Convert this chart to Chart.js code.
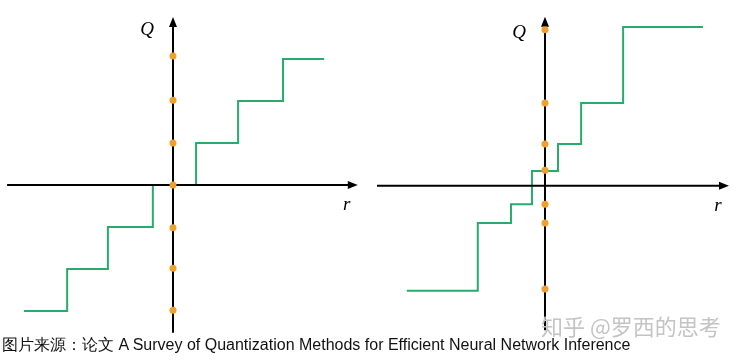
<!DOCTYPE html>
<html>
<head>
<meta charset="utf-8">
<script src="https://cdn.jsdelivr.net/npm/chart.js@4.4.1/dist/chart.umd.min.js"></script>
<style>
  body { margin: 0; background: #fff; }
  #wrap { position: relative; width: 738px; height: 361px; background: #fff; overflow: hidden; }
  .panel { position: absolute; top: 0; width: 369px; height: 340px; }
  #caption { position: absolute; left: 2px; top: 335px; font-family: "Liberation Sans", Arial, sans-serif; font-size: 16px; color: #111; white-space: nowrap; }
  #mark { position: absolute; left: 541px; top: 309px; font-family: "Noto Sans CJK SC", sans-serif; font-size: 22px; color: #c4c4c4; white-space: nowrap; }
</style>
</head>
<body>
<div id="wrap">
  <div class="panel" style="left:0"><canvas id="uniform" width="369" height="340"></canvas></div>
  <div class="panel" style="left:369px"><canvas id="nonuniform" width="369" height="340"></canvas></div>
  <div id="caption">图片来源：论文 A Survey of Quantization Methods for Efficient Neural Network Inference</div>
  <div id="mark">知乎 @罗西的思考</div>
</div>
<script>
// uniform quantization (left)
const uniStepR = [-3.55, -2.52, -1.55, -0.48, 0.55, 1.55, 2.62, 3.6];
const uniStepQ = [-3, -2, -1, 0, 1, 2, 3, 3];
const uniLevels = [3.07, 2.02, 1, 0, -1.02, -1.98, -2.98];

// non-uniform quantization (right)
const nonStepR = [-3.29, -1.6, -0.81, -0.31, 0.31, 0.86, 1.86, 3.76];
const nonStepQ = [-2.5, -0.89, -0.44, 0.35, 0.99, 1.97, 3.78, 3.78];
const nonLevels = [3.71, 1.97, 0.99, 0.37, -0.44, -0.89, -2.46];

const green = '#2aab6c';
const orange = '#f0a02c';

// axis arrows, drawn after the step line and before the dots
const axesPlugin = {
  id: 'arrowAxes',
  afterDatasetDraw(chart, args, opts) {
    if (args.index !== 1) return;
    const { ctx } = chart;
    const xs = chart.scales.x, ys = chart.scales.y;
    const x0 = xs.getPixelForValue(0), y0 = ys.getPixelForValue(0);
    const xl = xs.getPixelForValue(opts.rRange[0]), xr = xs.getPixelForValue(opts.rRange[1]);
    const yb = ys.getPixelForValue(opts.qRange[0]), yt = ys.getPixelForValue(opts.qRange[1]);
    ctx.save();
    ctx.strokeStyle = '#000';
    ctx.fillStyle = '#000';
    ctx.lineWidth = 2;
    ctx.beginPath();
    ctx.moveTo(xl, y0); ctx.lineTo(xr - 6, y0);
    ctx.moveTo(x0, yb); ctx.lineTo(x0, yt + 6);
    ctx.stroke();
    ctx.beginPath();
    ctx.moveTo(xr, y0); ctx.lineTo(xr - 10, y0 - 4); ctx.lineTo(xr - 10, y0 + 4); ctx.closePath();
    ctx.moveTo(x0, yt); ctx.lineTo(x0 - 4, yt + 10); ctx.lineTo(x0 + 4, yt + 10); ctx.closePath();
    ctx.fill();
    ctx.font = 'italic 19px "Liberation Serif", "DejaVu Serif", serif';
    ctx.textAlign = 'center';
    ctx.textBaseline = 'middle';
    ctx.fillText('Q', x0 + opts.qLabel[0], yt + opts.qLabel[1]);
    ctx.fillText('r', xr + opts.rLabel[0], y0 + opts.rLabel[1]);
    ctx.restore();
  }
};

function makePanel(id, stepR, stepQ, levels, xMin, xMax, yMin, yMax, axisOpts) {
  new Chart(document.getElementById(id), {
    type: 'scatter',
    data: {
      datasets: [
        {
          data: levels.map(q => ({ x: 0, y: q })),
          backgroundColor: orange,
          borderWidth: 0,
          pointRadius: 3.5
        },
        {
          type: 'line',
          data: stepR.map((r, i) => ({ x: r, y: stepQ[i] })),
          borderColor: green,
          borderWidth: 2,
          stepped: true,
          pointRadius: 0,
          fill: false
        }
      ]
    },
    options: {
      responsive: false,
      animation: false,
      layout: { padding: 0, autoPadding: false },
      plugins: { legend: { display: false }, tooltip: { enabled: false }, arrowAxes: axisOpts },
      scales: {
        x: { type: 'linear', display: false, min: xMin, max: xMax },
        y: { type: 'linear', display: false, min: yMin, max: yMax }
      }
    },
    plugins: [axesPlugin]
  });
}

makePanel('uniform', uniStepR, uniStepQ, uniLevels, -4.119, 4.667, -3.690, 4.405,
  { rRange: [-3.95, 4.40], qRange: [-3.52, 4.0], qLabel: [-26, 13], rLabel: [-11, 20] });
makePanel('nonuniform', nonStepR, nonStepQ, nonLevels, -4.190, 4.595, -3.674, 4.421,
  { rRange: [-4.0, 4.38], qRange: [-3.44, 4.02], qLabel: [-26, 16], rLabel: [-11, 20] });
</script>
</body>
</html>
